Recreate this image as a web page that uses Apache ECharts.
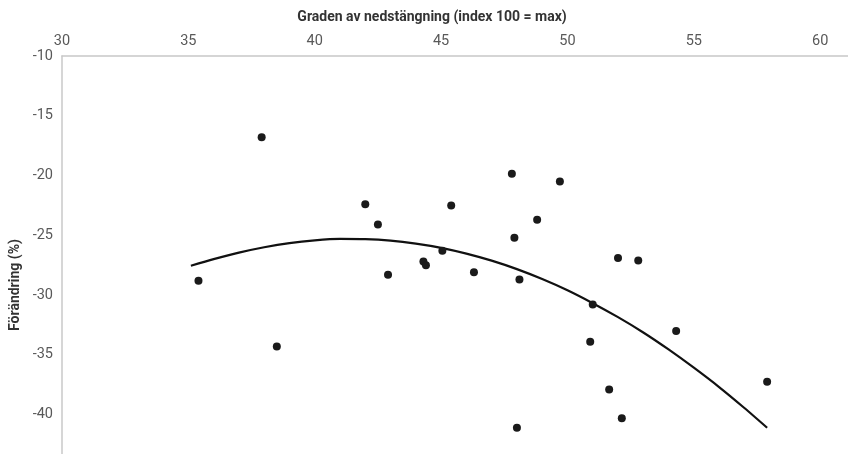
<!DOCTYPE html>
<html>
<head>
<meta charset="utf-8">
<script src="https://cdn.jsdelivr.net/npm/echarts@6/dist/echarts.min.js"></script>
<style>html,body{margin:0;padding:0;background:#fff;}#c{width:848px;height:454px;}</style>
</head>
<body>
<div id="c"></div>
<script>
const xTitle = 'Graden av nedstängning (index 100 = max)';
const yTitle = 'Förändring (%)';
const lockdownX = [37.9, 42.0, 42.5, 35.4, 42.9, 45.4, 47.8, 49.7, 48.8, 47.9, 45.05, 44.3, 44.4, 46.3, 48.1, 52.0, 52.8, 51.0, 50.9, 54.3, 51.65, 52.15, 48.0, 57.9, 38.5];
const changeY  = [-16.8, -22.4, -24.1, -28.8, -28.3, -22.5, -19.85, -20.5, -23.7, -25.2, -26.3, -27.2, -27.5, -28.1, -28.7, -26.9, -27.1, -30.8, -33.9, -33.0, -37.9, -40.3, -41.1, -37.25, -34.3];
const trendX = [35.1, 36, 37, 38, 39, 40, 41, 42, 43, 44, 45, 46, 47, 48, 49, 50, 51, 52, 53, 54, 55, 56, 57, 57.9];
const trendY = [-27.55, -27.0, -26.45, -26.0, -25.65, -25.42, -25.3, -25.32, -25.45, -25.7, -26.05, -26.53, -27.12, -27.83, -28.66, -29.6, -30.68, -31.85, -33.13, -34.55, -36.08, -37.7, -39.45, -41.1];

const chart = echarts.init(document.getElementById('c'), null, {renderer: 'canvas'});
const font = 'Roboto';
chart.setOption({
  animation: false,
  backgroundColor: '#ffffff',
  grid: {left: 62, top: 56, right: 0, bottom: 0, containLabel: false},
  xAxis: {
    type: 'value', position: 'top', min: 30, max: 61.1, splitNumber: 6,
    axisLine: {show: true, lineStyle: {color: '#c8c8c8', width: 1.5}},
    axisTick: {show: false},
    splitLine: {show: false},
    axisLabel: {color: '#595959', fontSize: 14.5, fontFamily: font, margin: 7, showMaxLabel: false}
  },
  yAxis: {
    type: 'value', min: -43.3, max: -10, splitNumber: 7,
    axisLine: {show: true, onZero: false, lineStyle: {color: '#c8c8c8', width: 1.5}},
    axisTick: {show: false},
    splitLine: {show: false},
    axisLabel: {color: '#595959', fontSize: 14.5, fontFamily: font, margin: 9, showMinLabel: false}
  },
  graphic: [
    {type: 'text', x: 432, y: 17, style: {text: xTitle, font: 'bold 14px ' + font, fill: '#333333', textAlign: 'center', textVerticalAlign: 'middle'}},
    {type: 'text', x: 15, y: 285, rotation: Math.PI / 2, style: {text: yTitle, font: 'bold 14px ' + font, fill: '#333333', textAlign: 'center', textVerticalAlign: 'middle'}}
  ],
  series: [
    {
      type: 'line', data: trendX.map((x, i) => [x, trendY[i]]),
      smooth: 0.25, showSymbol: false, symbol: 'none',
      lineStyle: {color: '#111111', width: 2.2}, z: 2
    },
    {
      type: 'scatter', data: lockdownX.map((x, i) => [x, changeY[i]]),
      symbol: 'circle', symbolSize: 8,
      itemStyle: {color: '#1a1a1a', opacity: 1}, z: 3
    }
  ]
});
</script>
</body>
</html>
